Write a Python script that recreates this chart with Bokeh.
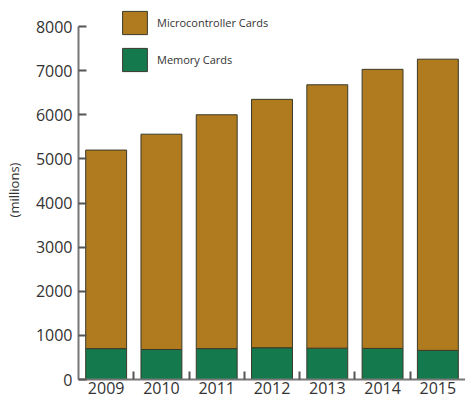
from bokeh.plotting import figure
from bokeh.models import ColumnDataSource, FixedTicker, Legend, LegendItem
from bokeh.embed import file_html
from bokeh.resources import INLINE

years = ["2009", "2010", "2011", "2012", "2013", "2014", "2015"]
totals = [5200, 5560, 6000, 6350, 6680, 7030, 7260]
memory = [700, 680, 700, 720, 710, 705, 660]
micro = [t - m for t, m in zip(totals, memory)]
y_ticks = [0, 1000, 2000, 3000, 4000, 5000, 6000, 7000, 8000]

BROWN = "#B07A1E"
GREEN = "#147A4E"
TXT = "#333333"
FONT = "Open Sans"

xs = list(range(len(years)))
src = ColumnDataSource(dict(x=xs, memory=memory, micro=micro))

p = figure(width=465, height=400, x_range=(-0.5, len(years) - 0.5), y_range=(0, 8590),
           output_backend="svg", toolbar_location=None,
           min_border_left=78, min_border_right=0, min_border_top=0, min_border_bottom=21)
p.outline_line_color = None
p.grid.visible = False
p.background_fill_color = "white"

rs = p.vbar_stack(["memory", "micro"], x="x", width=0.74, source=src,
                  fill_color=[GREEN, BROWN], line_color="#3a3a2a", line_width=1)

# y axis
ya = p.yaxis[0]
ya.ticker = FixedTicker(ticks=y_ticks)
ya.bounds = (0, 8000)
ya.major_tick_in = 8
ya.major_tick_out = 0
ya.minor_tick_line_color = None
ya.axis_line_color = "#777777"
ya.axis_line_width = 2
ya.major_tick_line_color = "#555555"
ya.major_tick_line_width = 2
ya.major_label_standoff = 6
ya.major_label_text_font = FONT
ya.major_label_text_font_size = "16px"
ya.major_label_text_color = TXT
ya.axis_label = "(millions)"
ya.axis_label_standoff = 10
ya.axis_label_text_font = FONT
ya.axis_label_text_font_size = "13px"
ya.axis_label_text_font_style = "normal"
ya.axis_label_text_color = TXT

# x axis
xa = p.xaxis[0]
xa.ticker = FixedTicker(ticks=xs, minor_ticks=[i + 0.5 for i in xs[:-1]])
xa.major_label_overrides = {i: y for i, y in zip(xs, years)}
xa.major_tick_in = 0
xa.major_tick_out = 0
xa.minor_tick_in = 8
xa.minor_tick_out = 0
xa.minor_tick_line_color = "#555555"
xa.minor_tick_line_width = 2
xa.axis_line_color = "#777777"
xa.axis_line_width = 2
xa.major_label_standoff = 2
xa.major_label_text_font = FONT
xa.major_label_text_font_size = "16px"
xa.major_label_text_color = TXT

legend = Legend(items=[LegendItem(label="Microcontroller Cards", renderers=[rs[1]]),
                       LegendItem(label="Memory Cards", renderers=[rs[0]])],
                location=(41, 305), orientation="vertical",
                glyph_width=31, glyph_height=29, label_height=29, spacing=8,
                padding=0, margin=0, label_standoff=7,
                border_line_color=None, background_fill_alpha=0,
                label_text_font=FONT, label_text_font_size="11px", label_text_color=TXT)
p.add_layout(legend)

open("out.html", "w").write(file_html(p, INLINE))
